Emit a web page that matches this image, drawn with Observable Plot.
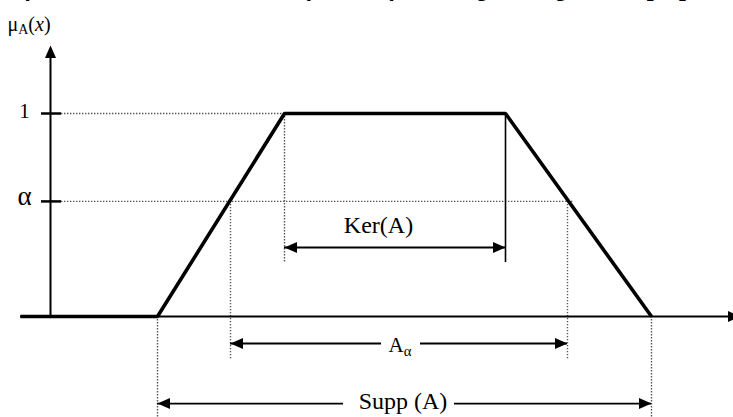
<!DOCTYPE html>
<html>
<head>
<meta charset="utf-8">
<script src="https://cdn.jsdelivr.net/npm/d3@7"></script>
<script src="https://cdn.jsdelivr.net/npm/@observablehq/plot@0.6"></script>
<style>
  html, body { margin: 0; padding: 0; background: #fff; overflow: hidden; }
  #page { position: relative; width: 733px; height: 417px; }
  #lead {
    position: absolute; right: 46px; top: -26px;
    font: bold 24px "Liberation Sans", sans-serif; white-space: nowrap; color: #000;
  }
</style>
</head>
<body>
<div id="page">
  <div id="lead">tes que se conocen como trapecios por la figura siguiente [11]</div>
</div>
<script>
// Trapezoidal membership function of a fuzzy set A
const membershipX = [-3, 10.7, 23.4, 45.5, 60.1];
const membershipMu = [0, 0, 1, 1, 0];
const alpha = 0.567;
const supportX = [10.7, 60.1];
const kernelX = [23.4, 45.5];
const alphaCutX = [18.0, 51.7];
const yTickValues = [1, alpha];
const yTickLabels = ["1", "α"];
const intervalLabels = ["Ker(A)", "A{α}", "Supp (A)"];
const axisTitle = "μ{A}(*x*)";

// rows (in μ units) where the interval arrows sit
const kerRow = 0.34, alphaRow = -0.133, suppRow = -0.429;

// filled arrowhead pointing up, tip at the origin
const arrowHead = {
  draw(ctx) {
    ctx.moveTo(0, 0);
    ctx.lineTo(5.5, 12.5);
    ctx.lineTo(-5.5, 12.5);
    ctx.closePath();
  }
};

const heads = [
  {x: 0, y: 1.335, r: 0},
  {x: 69, y: 0, r: 90},
  {x: kernelX[0], y: kerRow, r: -90}, {x: kernelX[1], y: kerRow, r: 90},
  {x: alphaCutX[0], y: alphaRow, r: -90}, {x: alphaCutX[1], y: alphaRow, r: 90},
  {x: supportX[0], y: suppRow, r: -90}, {x: supportX[1], y: suppRow, r: 90}
];

const arrowSegments = [
  {y: kerRow, x1: kernelX[0], x2: kernelX[1]},
  {y: alphaRow, x1: alphaCutX[0], x2: 33.1}, {y: alphaRow, x1: 37.0, x2: alphaCutX[1]},
  {y: suppRow, x1: supportX[0], x2: 29.3}, {y: suppRow, x1: 40.4, x2: supportX[1]}
];

const dotted = {stroke: "#555", strokeWidth: 1.4, strokeDasharray: "1.4,1.6"};

const labelRows = [
  {x: (kernelX[0] + kernelX[1]) / 2 - 1.65, y: 0.409, size: 24},
  {x: (alphaCutX[0] + alphaCutX[1]) / 2 + 0.1, y: -0.177, size: 21},
  {x: (supportX[0] + supportX[1]) / 2 - 0.15, y: -0.458, size: 24}
];

const chart = Plot.plot({
  width: 733,
  height: 417,
  margin: 0,
  x: {domain: [-5, 68.3], axis: null},
  y: {domain: [-0.4975, 1.5567], axis: null},
  marks: [
    // dotted guide lines
    Plot.ruleY([1], {x1: 1.1, x2: kernelX[0], ...dotted}),
    Plot.ruleY([alpha], {x1: 1.1, x2: alphaCutX[1] + 0.6, ...dotted}),
    Plot.ruleX([kernelX[0]], {y1: 1, y2: 0.266, ...dotted}),
    Plot.ruleX(alphaCutX, {y1: alpha, y2: -0.217, ...dotted}),
    Plot.ruleX(supportX, {y1: 0, y2: -0.5, ...dotted}),
    // right edge of the kernel
    Plot.ruleX([kernelX[1]], {y1: 1, y2: 0.266, stroke: "#000", strokeWidth: 1.6}),
    // axes and ticks
    Plot.ruleY([0], {x1: -3, x2: 68.5, stroke: "#000", strokeWidth: 2}),
    Plot.ruleX([0], {y1: 0, y2: 1.3, stroke: "#000", strokeWidth: 2}),
    Plot.ruleY(yTickValues, {x1: -0.9, x2: 1.1, stroke: "#000", strokeWidth: 2.5}),
    // membership function
    Plot.line(membershipX.map((x, i) => ({x, mu: membershipMu[i]})), {
      x: "x", y: "mu", stroke: "#000", strokeWidth: 3.6, strokeLinejoin: "miter", strokeLinecap: "butt"
    }),
    // interval arrows
    Plot.ruleY(arrowSegments, {y: "y", x1: "x1", x2: "x2", stroke: "#000", strokeWidth: 1.8}),
    Plot.dot(heads, {x: "x", y: "y", rotate: "r", symbol: arrowHead, fill: "#000", stroke: "none"}),
    // labels
    Plot.text(yTickValues, {
      x: -2.6, y: d => d, text: (d, i) => yTickLabels[i], dy: 4,
      fontSize: (d, i) => [21, 27][i],
      lineAnchor: "bottom", fontFamily: "Liberation Serif", fill: "#000"
    }),
    Plot.text([axisTitle], {
      x: -4.3, y: 1.404, text: d => d, textAnchor: "start", lineAnchor: "bottom",
      fontFamily: "Liberation Serif", fontSize: 20, fill: "#000"
    }),
    ...labelRows.map((p, i) => Plot.text([intervalLabels[i]], {
      x: p.x, y: p.y, text: d => d, lineAnchor: "bottom",
      fontFamily: "Liberation Serif", fontSize: p.size, fill: "#000"
    }))
  ]
});

// turn {sub} and *italic* markup into tspans
d3.select(chart).selectAll("text").each(function () {
  const s = this.textContent;
  if (!/[{*]/.test(s)) return;
  const g = this.closest("g[font-size]");
  const fs = g ? parseFloat(g.getAttribute("font-size")) : 20;
  const parts = s.split(/(\{[^}]*\}|\*[^*]*\*)/).filter(p => p);
  this.textContent = "";
  let shifted = false;
  for (const p of parts) {
    const t = d3.select(this).append("tspan");
    if (p.startsWith("{")) {
      t.text(p.slice(1, -1)).attr("font-size", fs * 0.7).attr("dy", fs * 0.15);
      shifted = true;
    } else {
      if (shifted) { t.attr("dy", -fs * 0.15); shifted = false; }
      if (p.startsWith("*")) t.text(p.slice(1, -1)).attr("font-style", "italic");
      else t.text(p);
    }
  }
});

chart.style.position = "absolute";
chart.style.left = "0";
chart.style.top = "0";
document.getElementById("page").prepend(chart);
</script>
</body>
</html>
